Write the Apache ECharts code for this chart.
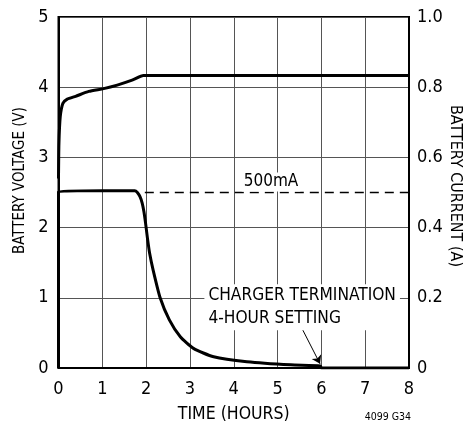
<!DOCTYPE html>
<html><head><meta charset="utf-8">
<script src="https://cdn.jsdelivr.net/npm/echarts@6/dist/echarts.min.js"></script>
<style>html,body{margin:0;padding:0;background:#fff}#c{width:464px;height:423px}</style>
</head><body><div id="c"></div>
<script>
const FONT = '"DejaVu Sans Condensed","Liberation Sans Narrow","Arial Narrow",sans-serif';

// Battery voltage (V) vs time (hours)
const voltageData = [[0,2.70],[0.01,3.2],[0.04,3.58],[0.1,3.77],[0.2,3.83],[0.39,3.87],[0.69,3.94],[1.03,3.98],[1.34,4.03],[1.68,4.10],[1.94,4.165],[2.3,4.165],[8,4.165]];
// Battery current (A) vs time (hours)
const currentData = [[0,0],[0,0.503],[1.0,0.505],[1.74,0.505],[1.8,0.5],[1.86,0.488],[1.91,0.47],[1.95,0.445],[1.99,0.41],[2.03,0.37],[2.08,0.327],[2.16,0.279],[2.32,0.2],[2.53,0.137],[2.78,0.089],[3.08,0.056],[3.54,0.032],[4.3,0.018],[5.3,0.009],[5.98,0.006],[6.0,0],[8,0]];
// 500mA reference level
const refLevel = [[1.97,0.5],[8,0.5]];
const refLabel = '500mA';
const refLabelAt = [4.85, 0.53];
const noteLines = ['CHARGER TERMINATION','4-HOUR SETTING'];
const noteAt = [3.33, 0.173];
const arrowFrom = [5.56, 0.112];
const arrowTo = [5.97, 0.012];
const figCode = '4099 G34';

const chart = echarts.init(document.getElementById('c'), null, {renderer:'canvas'});
const lab = {color:'#000', fontFamily:FONT, fontSize:18};
chart.setOption({
  animation:false,
  backgroundColor:'#fff',
  grid:{left:58.5,right:55,top:17,bottom:55,show:true,borderColor:'#000',borderWidth:2,containLabel:false,outerBoundsMode:'none'},
  xAxis:{type:'value',min:0,max:8,interval:1,
    name:'TIME (HOURS)',nameLocation:'middle',nameGap:37,
    nameTextStyle:{color:'#000',fontFamily:FONT,fontSize:17.5},
    axisLine:{show:true,lineStyle:{color:'#000',width:2}},axisTick:{show:false},
    axisLabel:Object.assign({margin:12},lab),
    splitLine:{show:true,lineStyle:{color:'#555',width:1}}},
  yAxis:[
    {type:'value',min:0,max:5,interval:1,position:'left',
      name:'BATTERY VOLTAGE (V)',nameLocation:'middle',nameGap:30,
      nameTextStyle:{color:'#000',fontFamily:FONT,fontSize:15,padding:[0,0,0,24]},
      axisLine:{show:true,lineStyle:{color:'#000',width:2}},axisTick:{show:false},
      axisLabel:Object.assign({margin:10},lab),
      splitLine:{show:true,lineStyle:{color:'#555',width:1}}},
    {type:'value',min:0,max:1,interval:0.2,position:'right',
      name:'BATTERY CURRENT (A)',nameLocation:'middle',nameGap:38,nameRotate:-90,nameMoveOverlap:false,
      nameTextStyle:{color:'#000',fontFamily:FONT,fontSize:16,padding:[0,13,0,0]},
      axisLine:{show:true,lineStyle:{color:'#000',width:2}},axisTick:{show:false},
      axisLabel:Object.assign({margin:8,formatter:v=>v===0?'0':v.toFixed(1)},lab),
      splitLine:{show:false}}
  ],
  series:[
    {type:'line',name:'Voltage',yAxisIndex:0,data:voltageData,showSymbol:false,smooth:0.2,
      lineStyle:{color:'#000',width:3},z:5},
    {type:'line',name:'Current',yAxisIndex:1,data:currentData,showSymbol:false,smooth:0.2,
      lineStyle:{color:'#000',width:3},z:5,
      markLine:{silent:true,symbol:['none','arrow'],symbolSize:8,label:{show:false},
        lineStyle:{color:'#000',width:1,type:'solid'},
        data:[[{coord:arrowFrom},{coord:arrowTo}]]}},
    {type:'line',name:'500mA',yAxisIndex:1,data:refLevel,showSymbol:false,
      lineStyle:{color:'#000',width:1.3,type:[9,6]},z:4,
      markPoint:{silent:true,symbol:'rect',symbolSize:0,
        data:[
          {coord:refLabelAt,label:{show:true,position:'inside',formatter:refLabel,color:'#000',fontFamily:FONT,fontSize:17,backgroundColor:'#fff',padding:[1,2,1,2]}},
          {coord:noteAt,label:{show:true,position:'right',distance:0,formatter:noteLines.join('\n'),color:'#000',fontFamily:FONT,fontSize:17.2,lineHeight:23,align:'left',backgroundColor:'#fff',padding:[0,4,0,4]}}
        ]}}
  ],
  graphic:[{type:'text',right:53,bottom:0,style:{text:figCode,fill:'#000',font:'10.5px '+FONT}}]
});
</script></body></html>
